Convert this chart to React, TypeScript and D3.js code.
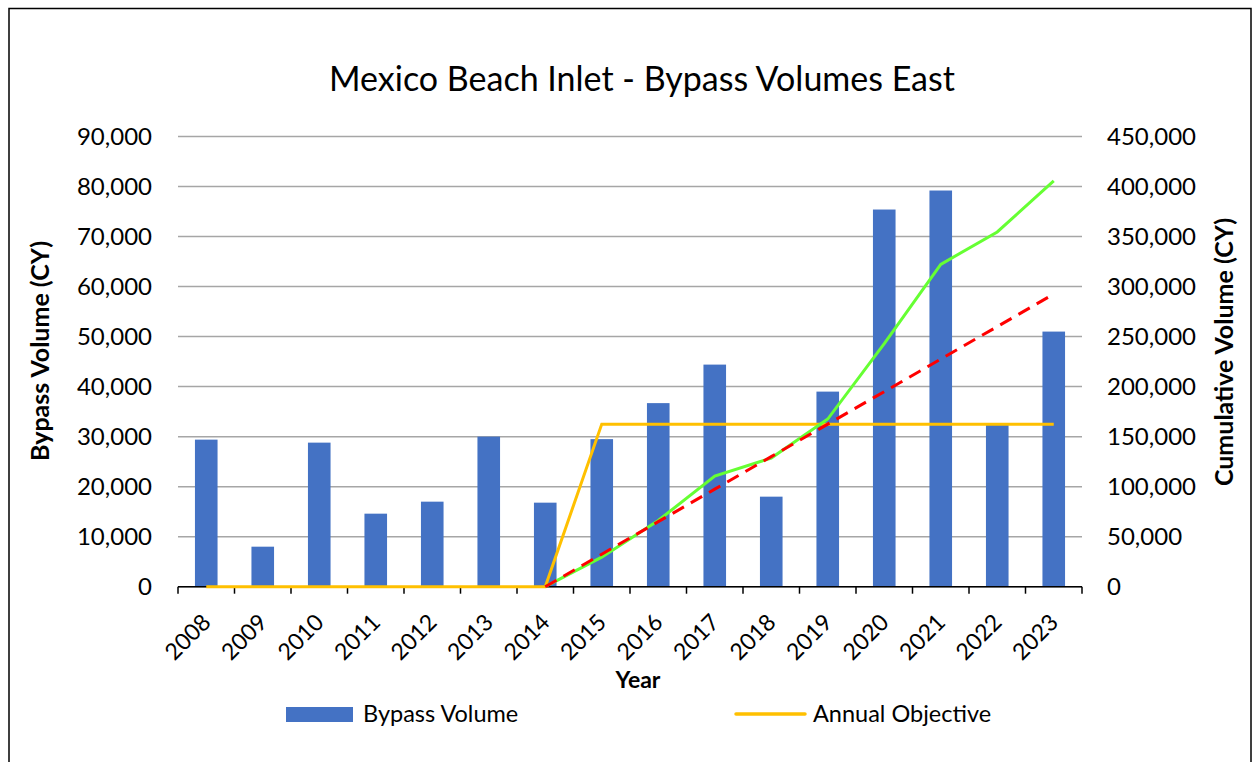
import React from "react";
import * as d3 from "d3";

const years = ["2008","2009","2010","2011","2012","2013","2014","2015","2016","2017","2018","2019","2020","2021","2022","2023"];
const bypassVolume = [29400, 8000, 28800, 14600, 17000, 30000, 16800, 29500, 36700, 44400, 18000, 39000, 75400, 79200, 32400, 51000];
const annualObjective = [0, 0, 0, 0, 0, 0, 0, 32500, 32500, 32500, 32500, 32500, 32500, 32500, 32500, 32500];
const cumulativeYears = ["2014","2015","2016","2017","2018","2019","2020","2021","2022","2023"];
const cumulativeVolume = [0, 29500, 66200, 110600, 128600, 167600, 243000, 322200, 354600, 405600];
const cumulativeObjective = [0, 32500, 65000, 97500, 130000, 162500, 195000, 227500, 260000, 292500];
const leftTicks = [0, 10000, 20000, 30000, 40000, 50000, 60000, 70000, 80000, 90000];
const rightTicks = [0, 50000, 100000, 150000, 200000, 250000, 300000, 350000, 400000, 450000];

const FONT = "Lato, 'Open Sans', sans-serif";

export default function App() {
  const left = 178, right = 1082, top = 136.5, bottom = 586.7;
  const x = d3.scaleBand().domain(years).range([left, right]).paddingInner(0.6).paddingOuter(0.3);
  const xc = (yr: string) => (x(yr) as number) + x.bandwidth() / 2;
  const yL = d3.scaleLinear().domain([0, 90000]).range([bottom, top]);
  const yR = d3.scaleLinear().domain([0, 450000]).range([bottom, top]);
  const fmt = d3.format(",");
  const step = (right - left) / years.length;

  const objLine = d3.line<number>().x((_, i) => xc(years[i])).y(d => yL(d))(annualObjective) as string;
  const cumLine = d3.line<number>().x((_, i) => xc(cumulativeYears[i])).y(d => yR(d))(cumulativeVolume) as string;
  const cumObjLine = d3.line<number>().x((_, i) => xc(cumulativeYears[i])).y(d => yR(d))(cumulativeObjective) as string;

  return (
    <svg width={1259} height={762} style={{ position: "absolute", left: 0, top: 0, display: "block" }} fontFamily={FONT}>
      <rect x={0} y={0} width={1259} height={762} fill="#fff" />
      <rect x={9} y={8.5} width={1242} height={770} fill="#fff" stroke="#000" strokeWidth={1.5} />
      <text x={642} y={91} textAnchor="middle" fontSize={34} fill="#000">Mexico Beach Inlet - Bypass Volumes East</text>

      {leftTicks.map(t => (
        <line key={"g" + t} x1={left} x2={right} y1={yL(t)} y2={yL(t)} stroke="#A6A6A6" strokeWidth={1.5} />
      ))}
      {leftTicks.map(t => (
        <text key={"l" + t} x={152} y={yL(t) + 8.5} textAnchor="end" fontSize={24} fill="#000">{fmt(t)}</text>
      ))}
      {rightTicks.map(t => (
        <text key={"r" + t} x={1107} y={yR(t) + 8.5} textAnchor="start" fontSize={24} fill="#000">{fmt(t)}</text>
      ))}

      {years.map((yr, i) => (
        <rect key={"b" + yr} x={x(yr)} y={yL(bypassVolume[i])} width={x.bandwidth()} height={bottom - yL(bypassVolume[i])} fill="#4472C4" />
      ))}

      <line x1={left} x2={right} y1={bottom} y2={bottom} stroke="#000" strokeWidth={1.5} />
      {d3.range(years.length + 1).map(i => (
        <line key={"t" + i} x1={left + i * step} x2={left + i * step} y1={bottom} y2={bottom + 7} stroke="#000" strokeWidth={1.5} />
      ))}
      {years.map(yr => (
        <text key={"xl" + yr} transform={`translate(${xc(yr) + 6},${bottom + 37}) rotate(-45)`} textAnchor="end" fontSize={23} fill="#000">{yr}</text>
      ))}

      <path d={objLine} fill="none" stroke="#FFC000" strokeWidth={3} />
      <path d={cumLine} fill="none" stroke="#66FF33" strokeWidth={3} />
      <path d={cumObjLine} fill="none" stroke="#FF0000" strokeWidth={3} strokeDasharray="13 8" />

      <text x={638} y={688} textAnchor="middle" fontSize={23} fontWeight="bold" fill="#000">Year</text>
      <text transform={`translate(49,351) rotate(-90)`} textAnchor="middle" fontSize={25} fontWeight="bold" fill="#000">Bypass Volume (CY)</text>
      <text transform={`translate(1233,352) rotate(-90)`} textAnchor="middle" fontSize={25} fontWeight="bold" fill="#000">Cumulative Volume (CY)</text>

      <rect x={286} y={707} width={67} height={15} fill="#4472C4" />
      <text x={363} y={722} fontSize={23.5} fill="#000">Bypass Volume</text>
      <line x1={736} x2={805} y1={714} y2={714} stroke="#FFC000" strokeWidth={3.5} strokeLinecap="round" />
      <text x={813} y={722} fontSize={23.5} fill="#000">Annual Objective</text>
    </svg>
  );
}
